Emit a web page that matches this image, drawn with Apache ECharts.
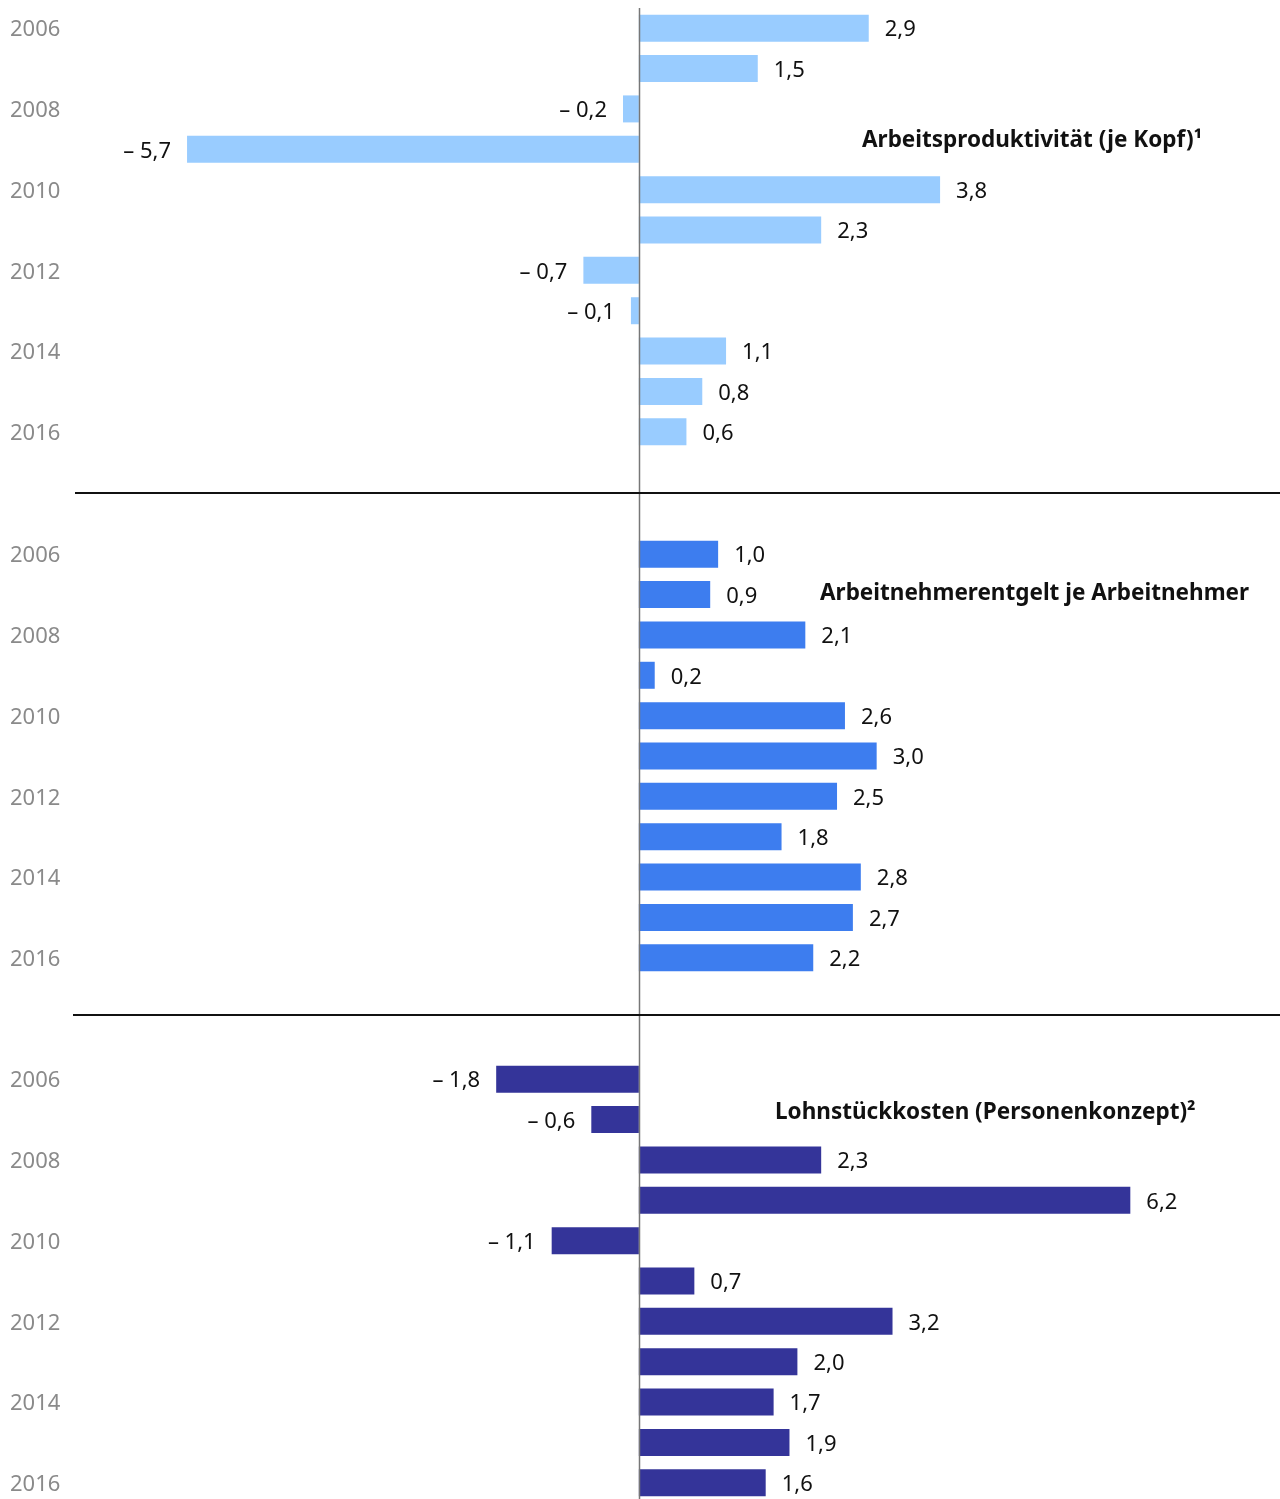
<!DOCTYPE html>
<html>
<head>
<meta charset="utf-8">
<script src="https://cdn.jsdelivr.net/npm/echarts@6/dist/echarts.min.js"></script>
<style>
html, body { margin: 0; padding: 0; background: #fff; }
#chart { width: 1280px; height: 1499px; }
</style>
</head>
<body>
<div id="chart"></div>
<script>
// Jahre
var years = ['2006', '2007', '2008', '2009', '2010', '2011', '2012', '2013', '2014', '2015', '2016'];
// Veränderung gegenüber Vorjahr in %
var produktivitaet = [2.9, 1.5, -0.2, -5.7, 3.8, 2.3, -0.7, -0.1, 1.1, 0.8, 0.6];
var entgelt = [1.0, 0.9, 2.1, 0.2, 2.6, 3.0, 2.5, 1.8, 2.8, 2.7, 2.2];
var lohnstueck = [-1.8, -0.6, 2.3, 6.2, -1.1, 0.7, 3.2, 2.0, 1.7, 1.9, 1.6];
var titel = ['Arbeitsproduktivität (je Kopf)\u00b9', 'Arbeitnehmerentgelt je Arbeitnehmer', 'Lohnstückkosten (Personenkonzept)\u00b2'];
var farben = ['#99ccff', '#3d7def', '#343499'];

var FONT = '"Noto Sans", "DejaVu Sans", sans-serif';
var chart = echarts.init(document.getElementById('chart'));

function fmt(v) {
    var s = Math.abs(v).toFixed(1).replace('.', ',');
    return v < 0 ? '\u2013 ' + s : s;
}

// negative Werte bekommen das Label links, positive rechts
function toData(arr) {
    return arr.map(function (v) {
        return { value: v, label: { position: v < 0 ? 'left' : 'right' } };
    });
}

var gridTops = [8, 534, 1059];
var titlePos = [[862, 129], [820, 582], [775, 1101]];
var reihen = [produktivitaet, entgelt, lohnstueck];

var grids = [], xAxes = [], yAxes = [], series = [], titles = [];
for (var i = 0; i < 3; i++) {
    // letzte Gruppe läuft unten über den Rand hinaus -> outerBounds aus
    grids.push({ left: 84, right: 7, top: gridTops[i], height: 444, containLabel: false, outerBoundsMode: 'none' });
    xAxes.push({
        type: 'value', gridIndex: i, min: -7, max: 8,
        show: false
    });
    yAxes.push({
        type: 'category', gridIndex: i, data: years, inverse: true,
        axisLine: { show: false, onZero: false },
        axisTick: { show: false },
        splitLine: { show: false },
        axisLabel: {
            interval: 1, align: 'left', margin: 74,
            verticalAlign: 'top', lineHeight: 4,
            color: '#8a8a8a', fontSize: 22, fontFamily: FONT
        }
    });
    series.push({
        type: 'bar', xAxisIndex: i, yAxisIndex: i,
        data: toData(reihen[i]),
        barWidth: 27,
        clip: false,
        itemStyle: { color: farben[i] },
        label: {
            show: true, distance: 16, offset: [0, 2],
            color: '#111', fontSize: 22, fontFamily: FONT,
            formatter: function (p) { return fmt(p.value); }
        },
        silent: true
    });
    titles.push({
        text: titel[i], left: titlePos[i][0], top: titlePos[i][1], padding: 0,
        textStyle: { fontSize: 22.5, fontWeight: 'bold', color: '#111', fontFamily: FONT }
    });
}

chart.setOption({
    animation: false,
    title: titles,
    grid: grids,
    xAxis: xAxes,
    yAxis: yAxes,
    series: series
});

// Nulllinie und Trennlinien
var x0 = Math.round(chart.convertToPixel({ xAxisIndex: 0 }, 0)) + 0.5;
chart.setOption({
    graphic: [
        { type: 'line', shape: { x1: x0, y1: 8, x2: x0, y2: 1499 }, style: { stroke: '#777', lineWidth: 1.5 }, z: 10 },
        { type: 'line', shape: { x1: 75, y1: 493, x2: 1280, y2: 493 }, style: { stroke: '#111', lineWidth: 2 }, z: 10 },
        { type: 'line', shape: { x1: 73, y1: 1015, x2: 1280, y2: 1015 }, style: { stroke: '#111', lineWidth: 2 }, z: 10 }
    ]
});
</script>
</body>
</html>
